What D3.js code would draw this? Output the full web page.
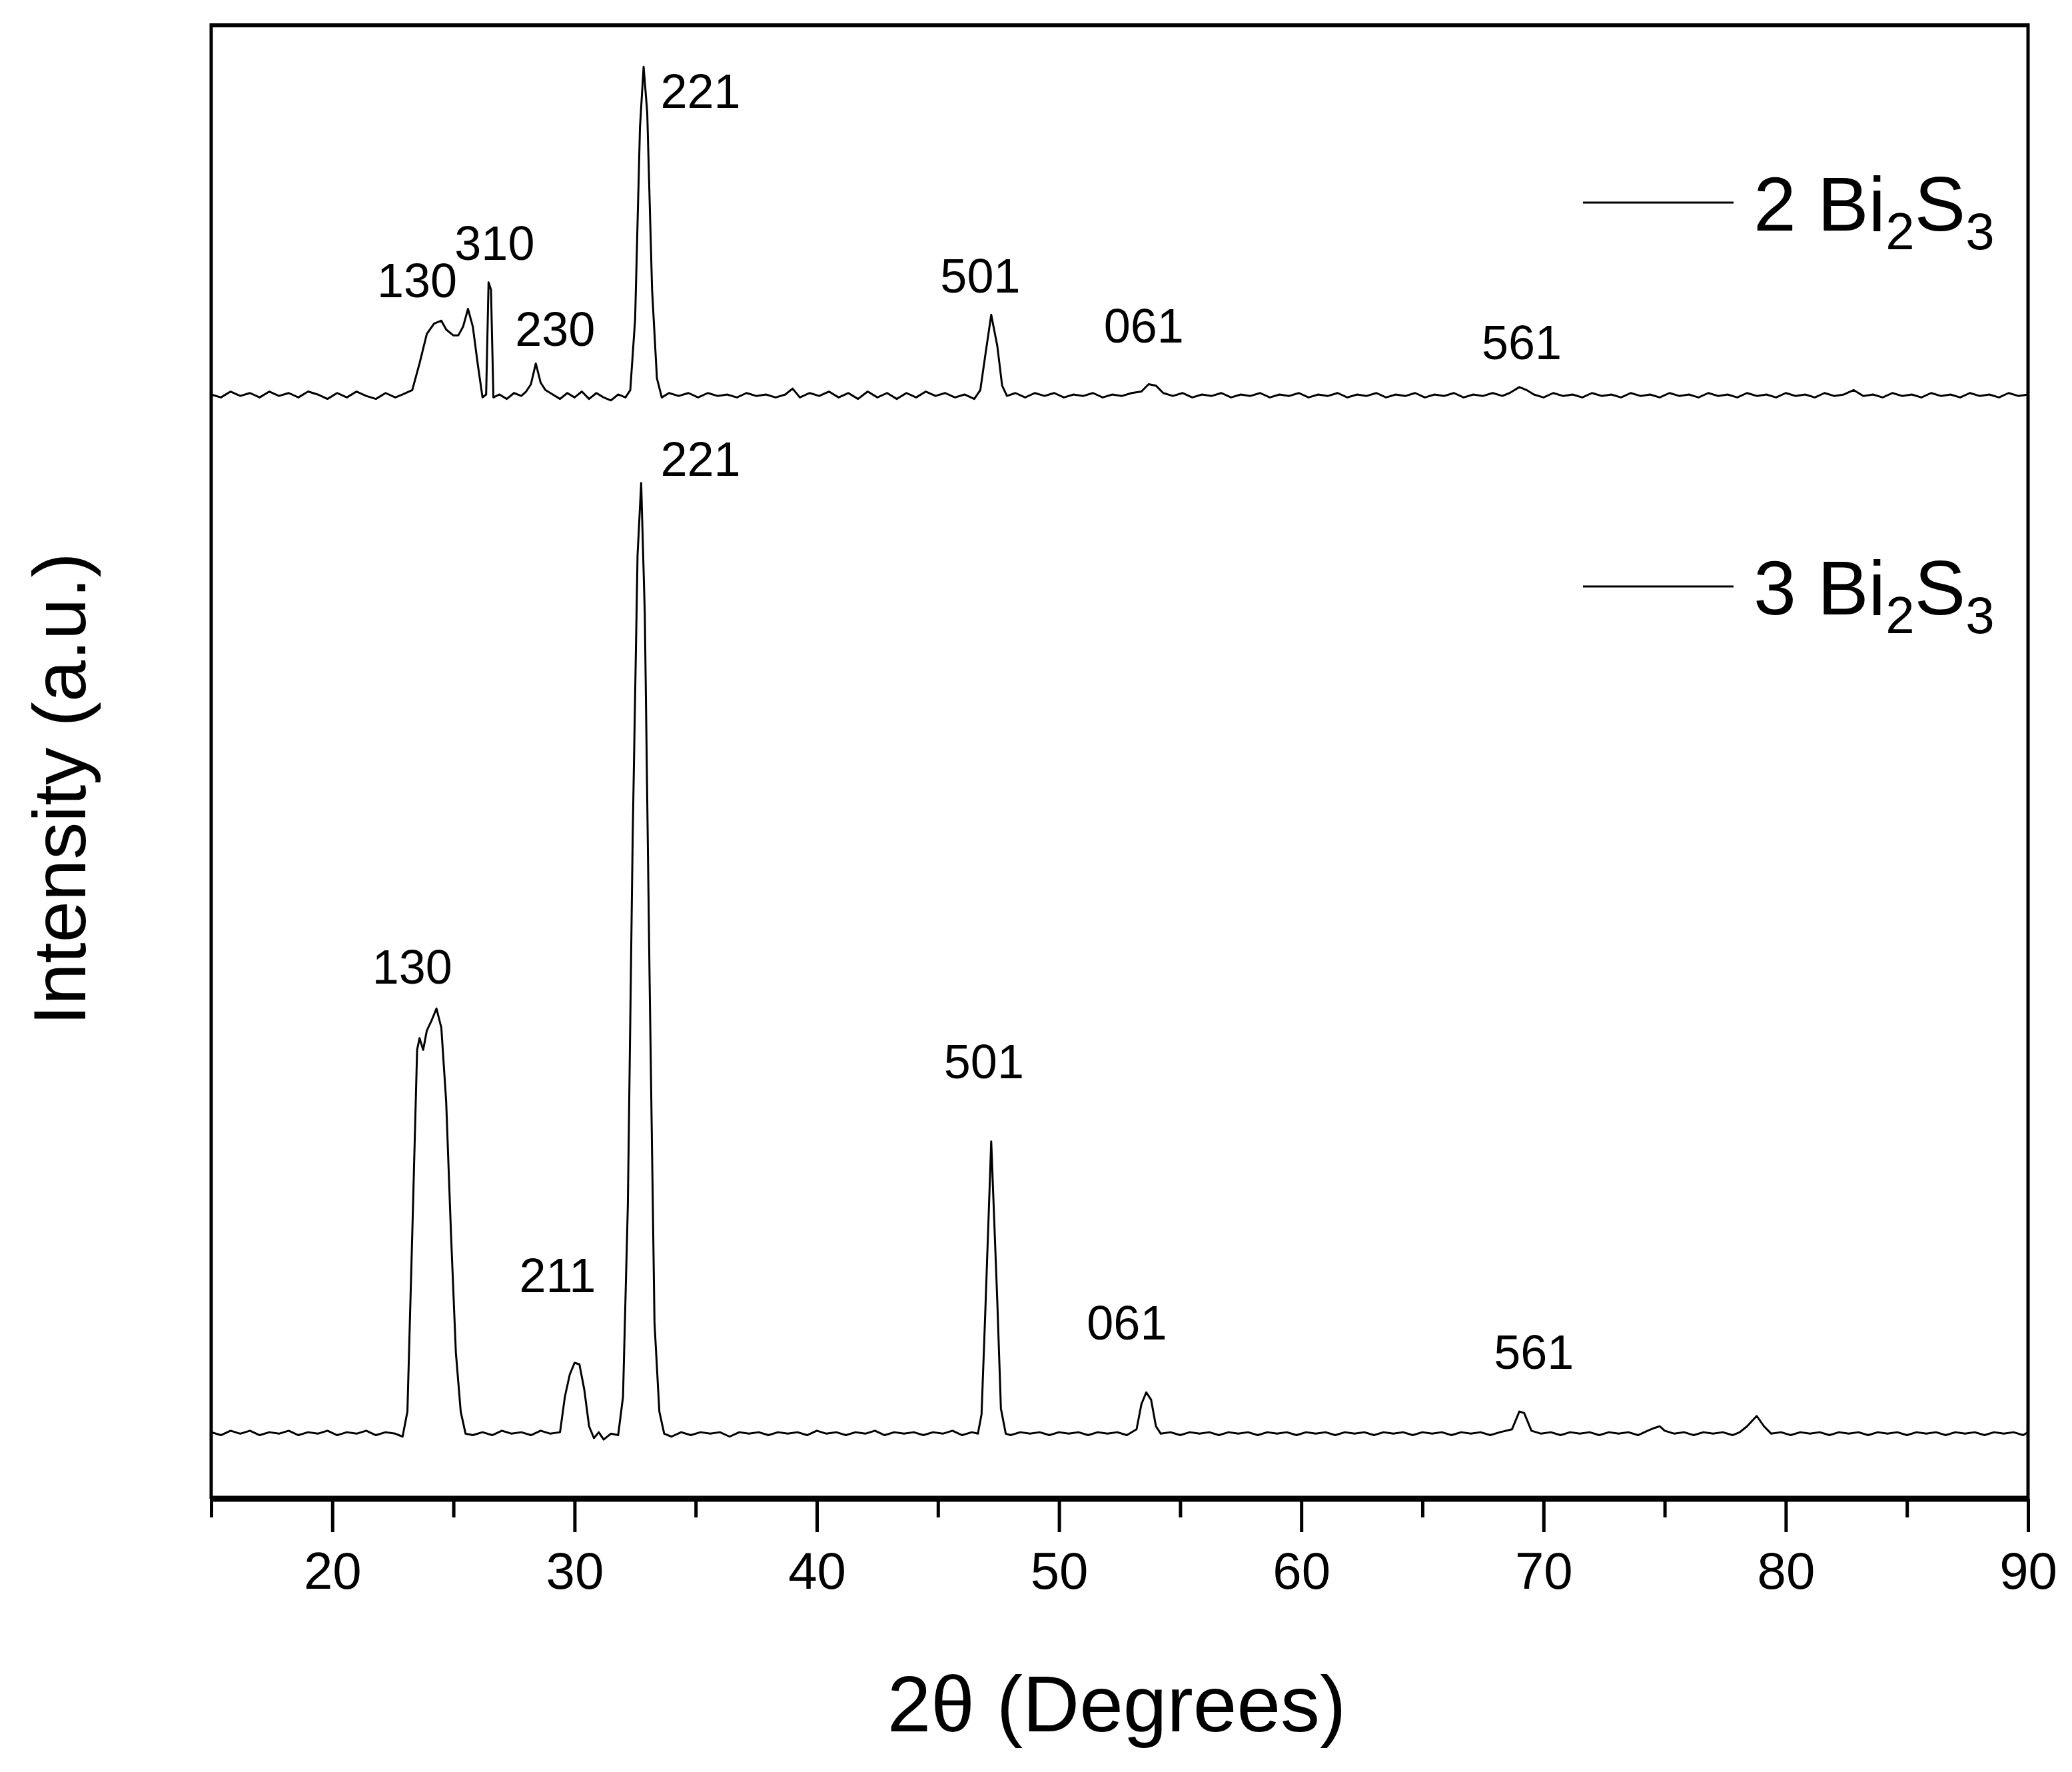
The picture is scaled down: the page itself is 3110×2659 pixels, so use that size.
<!DOCTYPE html>
<html><head><meta charset="utf-8">
<script src="https://cdn.jsdelivr.net/npm/d3@7"></script>
<style>body{margin:0;background:#fff}text{font-family:Arial,"Liberation Sans",sans-serif}</style>
</head><body><svg id="c" width="3110" height="2659"></svg>
<script>
const xTicks=[20,30,40,50,60,70,80,90];
const minorTicks=[15,25,35,45,55,65,75,85];
const seriesNames=["2 Bi","3 Bi"];
const series2=[[15,749],[15.4,747],[15.8,751],[16.2,748],[16.6,750],[17,747],[17.4,751],[17.8,748],[18.2,750],[18.6,747],[19,751],[19.4,749],[19.8,746],[20.2,750],[20.6,747],[21,751],[21.4,748],[21.8,746],[22.2,750],[22.6,747],[22.9,749],[23.3,752],[23.6,770],[23.9,790],[24.2,797],[24.5,799],[24.7,793],[25.0,789],[25.2,789],[25.4,795],[25.6,807],[25.8,795],[26.0,770],[26.2,747],[26.35,749],[26.45,825],[26.55,820],[26.65,747],[26.9,749],[27.2,746],[27.5,750],[27.8,748],[28.0,751],[28.2,756],[28.4,770],[28.6,757],[28.8,752],[29.1,749],[29.4,746],[29.7,750],[30.0,747],[30.3,751],[30.6,746],[30.9,750],[31.2,747],[31.5,745],[31.8,749],[32.1,747],[32.3,752],[32.5,800],[32.7,930],[32.85,971],[33.0,940],[33.2,820],[33.4,760],[33.6,747],[33.9,750],[34.3,748],[34.7,750],[35.1,747],[35.5,750],[35.9,748],[36.3,749],[36.7,747],[37.1,750],[37.5,748],[37.9,749],[38.3,747],[38.7,749],[39.0,753],[39.3,747],[39.7,750],[40.1,748],[40.5,751],[40.9,747],[41.3,750],[41.7,746],[42.1,751],[42.5,747],[42.9,750],[43.3,746],[43.7,750],[44.1,747],[44.5,751],[44.9,748],[45.3,750],[45.7,747],[46.1,749],[46.5,746],[46.75,752],[46.95,775],[47.2,803],[47.45,782],[47.65,755],[47.85,748],[48.2,750],[48.6,747],[49.0,750],[49.4,748],[49.8,750],[50.2,747],[50.6,749],[51.0,748],[51.4,750],[51.8,747],[52.2,749],[52.6,748],[53.0,750],[53.4,751],[53.7,756],[54.0,755],[54.3,750],[54.7,748],[55.1,750],[55.5,747],[55.9,749],[56.3,748],[56.7,750],[57.1,747],[57.5,749],[57.9,748],[58.3,750],[58.7,747],[59.1,749],[59.5,748],[59.9,750],[60.3,747],[60.7,749],[61.1,748],[61.5,750],[61.9,747],[62.3,749],[62.7,748],[63.1,750],[63.5,747],[63.9,749],[64.3,748],[64.7,750],[65.1,747],[65.5,749],[65.9,748],[66.3,750],[66.7,747],[67.1,749],[67.5,748],[67.9,750],[68.3,748],[68.6,750],[69.0,754],[69.3,752],[69.6,749],[70.0,747],[70.4,750],[70.8,748],[71.2,749],[71.6,747],[72.0,750],[72.4,748],[72.8,749],[73.2,747],[73.6,750],[74.0,748],[74.4,749],[74.8,747],[75.2,750],[75.6,748],[76.0,749],[76.4,747],[76.8,750],[77.2,748],[77.6,749],[78.0,747],[78.4,750],[78.8,748],[79.2,749],[79.6,747],[80.0,750],[80.4,748],[80.8,749],[81.2,747],[81.6,750],[82.0,748],[82.4,749],[82.8,752],[83.2,748],[83.6,749],[84.0,747],[84.4,750],[84.8,748],[85.2,749],[85.6,747],[86.0,750],[86.4,748],[86.8,749],[87.2,747],[87.6,750],[88.0,748],[88.4,749],[88.8,747],[89.2,750],[89.6,748],[90,749]];
const series3=[[15,46],[15.4,44],[15.8,47],[16.2,45],[16.6,47],[17,44],[17.4,46],[17.8,45],[18.2,47],[18.6,44],[19,46],[19.4,45],[19.8,47],[20.2,44],[20.6,46],[21,45],[21.4,47],[21.8,44],[22.2,46],[22.6,45],[22.9,43],[23.1,60],[23.3,180],[23.5,305],[23.6,313],[23.75,305],[23.9,318],[24.1,325],[24.3,333],[24.5,320],[24.7,270],[24.9,180],[25.1,100],[25.3,60],[25.5,45],[25.8,44],[26.2,46],[26.6,44],[27,47],[27.4,45],[27.8,46],[28.2,44],[28.6,47],[29,45],[29.4,46],[29.6,70],[29.8,85],[30.0,93],[30.2,92],[30.4,75],[30.6,50],[30.8,42],[31.0,46],[31.2,41],[31.5,45],[31.8,44],[32.0,70],[32.2,200],[32.4,450],[32.6,640],[32.75,689],[32.9,600],[33.1,350],[33.3,120],[33.5,60],[33.7,45],[34.0,43],[34.4,46],[34.8,44],[35.2,46],[35.6,45],[36.0,46],[36.4,43],[36.8,46],[37.2,45],[37.6,46],[38.0,44],[38.4,46],[38.8,45],[39.2,46],[39.6,44],[40.0,47],[40.4,45],[40.8,46],[41.2,44],[41.6,46],[42.0,45],[42.4,47],[42.8,44],[43.2,46],[43.6,45],[44.0,46],[44.4,44],[44.8,46],[45.2,45],[45.6,47],[46.0,44],[46.4,46],[46.65,45],[46.8,58],[46.95,125],[47.2,243],[47.45,135],[47.6,62],[47.8,45],[48.0,44],[48.4,46],[48.8,45],[49.2,46],[49.6,44],[50.0,46],[50.4,45],[50.8,46],[51.2,44],[51.6,46],[52.0,45],[52.4,46],[52.8,44],[53.2,48],[53.4,65],[53.6,73],[53.8,68],[54.0,50],[54.2,45],[54.6,46],[55.0,44],[55.4,46],[55.8,45],[56.2,46],[56.6,44],[57.0,46],[57.4,45],[57.8,46],[58.2,44],[58.6,46],[59.0,45],[59.4,46],[59.8,44],[60.2,46],[60.6,45],[61.0,46],[61.4,44],[61.8,46],[62.2,45],[62.6,46],[63.0,44],[63.4,46],[63.8,45],[64.2,46],[64.6,44],[65.0,46],[65.4,45],[65.8,46],[66.2,44],[66.6,46],[67.0,45],[67.4,46],[67.8,44],[68.2,46],[68.7,48],[69.0,60],[69.2,59],[69.5,47],[69.9,45],[70.3,46],[70.7,44],[71.1,46],[71.5,45],[71.9,46],[72.3,44],[72.7,46],[73.1,45],[73.5,46],[73.9,44],[74.3,47],[74.6,49],[74.8,50],[75.0,47],[75.4,45],[75.8,46],[76.2,44],[76.6,46],[77.0,45],[77.4,46],[77.8,44],[78.1,46],[78.4,50],[78.8,57],[79.1,50],[79.4,45],[79.8,46],[80.2,44],[80.6,46],[81.0,45],[81.4,46],[81.8,44],[82.2,46],[82.6,45],[83.0,46],[83.4,44],[83.8,46],[84.2,45],[84.6,46],[85.0,44],[85.4,46],[85.8,45],[86.2,46],[86.6,44],[87.0,46],[87.4,45],[87.8,46],[88.2,44],[88.6,46],[89.0,45],[89.4,46],[89.8,44],[90,46]];
const labels2=[["221",33.55,943,"start"],["130",23.5,815,"middle"],["310",26.7,840,"middle"],["230",29.2,782,"middle"],["501",46.75,818,"middle"],["061",53.5,784,"middle"],["561",69.1,773,"middle"]];
const labels3=[["221",33.55,694,"start"],["130",23.3,350,"middle"],["211",29.3,141,"middle"],["501",46.9,286,"middle"],["061",52.8,109,"middle"],["561",69.6,89,"middle"]];
const legendY=[879,619];

const L=317,R=3044,T=38,B=2249;
const x=d3.scaleLinear().domain([15,90]).range([L,R]);
const y=d3.scaleLinear().domain([0,1000]).range([2251,36]);
const svg=d3.select("#c");
const line=d3.line().x(d=>x(d[0])).y(d=>y(d[1]));
[series2,series3].forEach(s=>svg.append("path").attr("d",line(s)).attr("fill","none").attr("stroke","#000").attr("stroke-width",3).attr("stroke-linejoin","round"));
svg.append("line").attr("x1",L).attr("x2",R).attr("y1",T).attr("y2",T).attr("stroke","#000").attr("stroke-width",6);
svg.append("line").attr("x1",L).attr("x2",L).attr("y1",T-3).attr("y2",B).attr("stroke","#000").attr("stroke-width",5);
svg.append("line").attr("x1",R).attr("x2",R).attr("y1",T-3).attr("y2",B).attr("stroke","#000").attr("stroke-width",5);
const ax=svg.append("g").attr("transform",`translate(0,${B})`).call(d3.axisBottom(x).tickValues(xTicks).tickSize(50).tickPadding(30).tickFormat(d3.format("d")));
ax.select(".domain").remove();
ax.selectAll(".tick line").attr("stroke-width",5);
ax.selectAll(".tick text").attr("font-size",78).attr("font-family","Arial,Liberation Sans");
const am=svg.append("g").attr("transform",`translate(0,${B})`).call(d3.axisBottom(x).tickValues(minorTicks).tickSize(28).tickFormat(""));
am.select(".domain").remove(); am.selectAll(".tick line").attr("stroke-width",5);
svg.append("line").attr("x1",L-2).attr("x2",R+2).attr("y1",B).attr("y2",B).attr("stroke","#000").attr("stroke-width",9);
labels2.concat(labels3).forEach(l=>svg.append("text").attr("x",x(l[1])).attr("y",y(l[2])).attr("text-anchor",l[3]).attr("font-size",72).text(l[0]));
seriesNames.forEach((n,i)=>{
  const yy=y(legendY[i]);
  svg.append("line").attr("x1",2376).attr("x2",2602).attr("y1",yy).attr("y2",yy).attr("stroke","#000").attr("stroke-width",3);
  const t=svg.append("text").attr("x",2632).attr("y",yy+42).attr("font-size",115);
  t.append("tspan").text(n);
  t.append("tspan").attr("font-size",78).attr("dy",28).text("2");
  t.append("tspan").attr("font-size",115).attr("dy",-28).text("S");
  t.append("tspan").attr("font-size",78).attr("dy",28).text("3");
});
svg.append("text").attr("x",1676).attr("y",2598).attr("text-anchor","middle").attr("font-size",118).text("2θ (Degrees)");
svg.append("text").attr("transform","translate(128,1184) rotate(-90)").attr("text-anchor","middle").attr("font-size",112).text("Intensity (a.u.)");
</script></body></html>
